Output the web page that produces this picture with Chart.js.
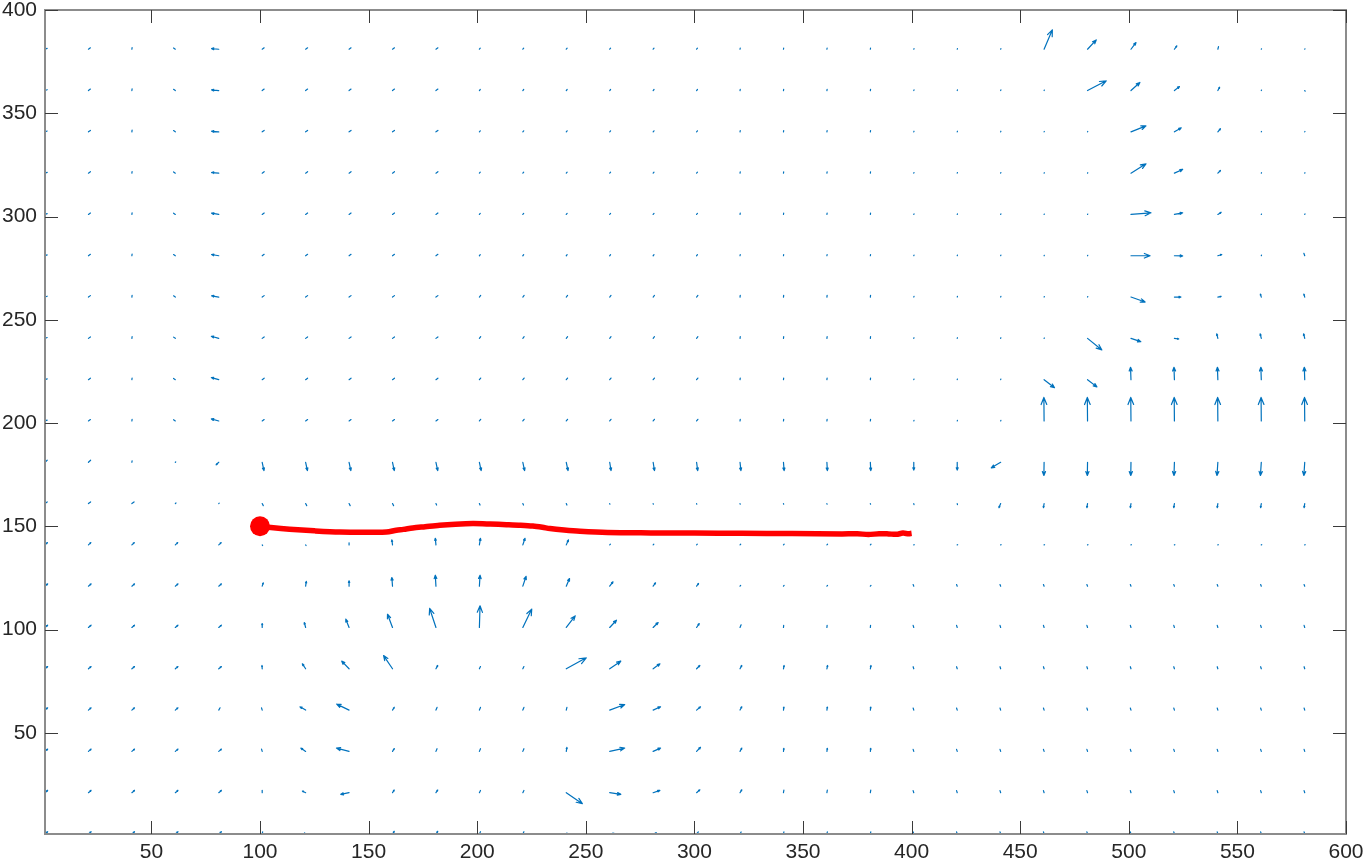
<!DOCTYPE html>
<html>
<head>
<meta charset="utf-8">
<script src="https://cdn.jsdelivr.net/npm/chart.js@4.4.1/dist/chart.umd.min.js"></script>
<style>
  html, body { margin: 0; padding: 0; background: #ffffff; }
  #quiverChart { display: block; }
</style>
</head>
<body>
<canvas id="quiverChart" width="1365" height="862"></canvas>
<script>
// tick labels
const xTickValues = [50, 100, 150, 200, 250, 300, 350, 400, 450, 500, 550, 600];
const yTickValues = [50, 100, 150, 200, 250, 300, 350, 400];

// quiver grid (x = 1:20:581, y = 381 down to 1)
const gridX = [1, 21, 41, 61, 81, 101, 121, 141, 161, 181, 201, 221, 241, 261, 281,
  301, 321, 341, 361, 381, 401, 421, 441, 461, 481, 501, 521, 541, 561, 581];
const gridY = [381, 361, 341, 321, 301, 281, 261, 241, 221, 201,
  181, 161, 141, 121, 101, 81, 61, 41, 21, 1];

// drawn arrow components in data units, one row per gridY entry
const arrowU = [
  [1.0,0.9,0.1,-0.8,-3.3,0.9,0.9,0.9,0.9,0.9, 0.4,0.4,0.4,0.4,0.4,0.4,0.1,0.1,0.1,0.1, 0.1,0.1,0.1,3.8,4.0,2.3,1.1,0.3,0.1,0.1],
  [1.0,0.9,0.1,-0.8,-3.3,0.9,0.9,0.9,0.9,0.9, 0.4,0.4,0.4,0.4,0.4,0.4,0.1,0.1,0.1,0.1, 0.1,0.1,0.1,0.1,8.6,4.1,2.3,0.8,0.1,0.2],
  [1.0,0.9,0.1,-0.8,-3.3,0.9,0.9,0.9,0.9,0.9, 0.4,0.4,0.4,0.4,0.4,0.4,0.1,0.1,0.1,0.1, 0.1,0.1,0.1,0.1,0.1,6.9,3.1,1.2,0.1,0.1],
  [1.0,0.9,0.1,-0.8,-3.3,0.9,0.9,0.9,0.9,0.9, 0.4,0.4,0.4,0.4,0.4,0.4,0.1,0.1,0.1,0.1, 0.1,0.1,0.1,0.1,0.1,6.9,3.8,1.2,0.1,0.1],
  [1.0,0.9,0.1,-0.8,-3.3,0.9,0.9,0.9,0.9,0.9, 0.4,0.4,0.4,0.4,0.4,0.4,0.1,0.1,0.1,0.1, 0.1,0.1,0.1,0.1,0.1,9.2,3.8,1.5,0.1,0.1],
  [1.0,0.9,0.1,-0.8,-3.3,0.9,0.9,0.9,0.9,0.9, 0.4,0.4,0.4,0.4,0.4,0.4,0.1,0.1,0.1,0.1, 0.1,0.1,0.1,0.1,0.1,8.8,3.8,1.8,0.1,-0.4],
  [1.0,0.9,0.1,-0.8,-3.3,0.9,0.9,0.9,0.9,0.9, 0.6,0.6,0.6,0.6,0.6,0.6,0.1,0.1,0.1,0.1, 0.1,0.1,0.1,0.1,0.1,6.5,3.0,1.5,-0.4,-0.4],
  [1.0,0.9,0.1,-0.8,-3.4,0.9,0.9,0.9,0.9,0.9, 0.6,0.6,0.6,0.6,0.6,0.6,0.1,0.1,0.1,0.1, 0.1,0.1,0.1,0.1,6.6,4.5,2.0,-0.5,-0.5,-0.5],
  [1.0,0.9,0.1,-0.8,-3.4,0.9,0.9,0.9,0.9,0.9, 0.6,0.6,0.6,0.6,0.6,0.6,0.1,0.1,0.1,0.1, 0.1,0.1,0.1,4.8,4.3,-0.2,-0.2,-0.2,-0.2,-0.2],
  [1.0,0.9,0.1,-0.8,-3.4,0.9,0.9,0.9,0.9,0.9, 0.6,0.6,0.6,0.6,0.6,0.6,0.1,0.1,0.1,0.1, 0.1,0.1,0.1,-0.1,-0.1,-0.1,-0.1,-0.1,-0.1,-0.1],
  [1.0,1.0,0.1,0.2,-1.2,0.8,0.8,0.8,0.8,0.8, 0.8,0.8,0.8,0.6,0.6,0.5,0.4,0.3,0.2,0.2, 0.0,0.0,-4.3,-0.1,-0.1,-0.1,-0.2,-0.4,-0.4,-0.4],
  [1.0,1.0,1.0,0.3,0.2,0.5,0.5,0.5,0.5,0.3, 0.3,0.3,0.3,0.1,0.1,0.1,0.1,0.1,0.1,0.1, 0.1,0.1,-0.8,-0.3,-0.3,-0.3,-0.3,-0.3,-0.3,-0.3],
  [1.1,1.1,1.1,1.1,1.1,0.2,0.2,0.0,-0.3,-0.3, 0.5,1.0,1.0,0.3,0.3,0.3,0.3,0.3,0.3,0.3, 0.2,0.2,0.2,0.2,0.2,0.2,0.2,0.2,0.2,0.2],
  [1.2,1.2,1.2,1.2,1.2,0.5,0.3,0.0,-0.3,-0.3, 0.3,1.5,1.5,1.5,1.1,0.9,0.3,0.3,0.3,0.3, -0.3,-0.3,-0.3,-0.3,-0.3,-0.3,-0.3,-0.3,-0.3,-0.3],
  [1.2,1.2,1.2,1.2,1.2,0.0,-0.6,-1.5,-2.3,-2.9, 0.3,4.1,4.1,3.1,2.3,1.2,0.5,0.1,0.1,0.1, -0.3,-0.3,-0.3,-0.3,-0.3,-0.3,-0.3,-0.3,-0.3,-0.3],
  [1.2,1.2,1.2,1.2,1.2,-0.1,-1.5,-3.4,-4.1,0.8, 0.5,0.5,9.2,5.1,3.1,1.5,0.8,0.3,0.3,0.3, -0.3,-0.3,-0.3,-0.3,-0.3,-0.3,-0.3,-0.3,-0.3,-0.3],
  [1.2,1.2,1.2,1.2,0.6,-0.3,-2.6,-5.7,0.8,0.5, 0.5,0.5,0.3,6.9,3.4,1.8,0.8,0.2,0.2,0.2, -0.3,-0.3,-0.3,-0.3,-0.3,-0.3,-0.3,-0.3,-0.3,-0.3],
  [1.2,1.2,1.2,1.2,1.2,-0.3,-2.2,-5.8,0.8,0.5, 0.5,0.5,0.3,6.9,3.4,1.8,0.8,0.2,0.2,0.2, -0.3,-0.3,-0.3,-0.3,-0.3,-0.3,-0.3,-0.3,-0.3,-0.3],
  [1.2,1.2,1.2,1.2,1.2,0.0,-1.5,-3.8,0.8,0.8, 0.5,0.5,7.4,5.1,3.1,1.5,0.8,0.2,0.2,0.2, -0.3,-0.3,-0.3,-0.3,-0.3,-0.3,-0.3,-0.3,-0.3,-0.3],
  [1.2,1.2,1.2,1.2,1.2,0.2,-0.5,-1.0,0.8,0.8, 0.5,0.5,0.3,2.0,1.5,0.8,0.5,0.2,0.2,0.2, -0.3,-0.3,-0.3,-0.3,-0.3,-0.3,-0.3,-0.3,-0.3,-0.3],
];
const arrowV = [
  [0.4,0.7,0.8,0.6,0.3,0.7,0.7,0.7,0.7,0.7, 0.5,0.5,0.5,0.5,0.5,0.5,0.6,0.6,0.6,0.6, 0.3,0.3,0.3,9.4,4.5,3.2,1.6,1.3,0.2,0.2],
  [0.4,0.7,0.8,0.6,0.3,0.7,0.7,0.7,0.7,0.7, 0.5,0.5,0.5,0.5,0.5,0.5,0.6,0.6,0.6,0.6, 0.3,0.3,0.3,0.2,4.7,3.9,1.9,1.6,0.2,-0.3],
  [0.4,0.7,0.8,0.6,0.3,0.7,0.7,0.7,0.7,0.7, 0.5,0.5,0.5,0.5,0.5,0.5,0.6,0.6,0.6,0.6, 0.3,0.3,0.3,0.2,0.2,2.9,1.9,1.5,0.2,0.2],
  [0.4,0.7,0.8,0.6,0.3,0.7,0.7,0.7,0.7,0.7, 0.5,0.5,0.5,0.5,0.5,0.5,0.6,0.6,0.6,0.6, 0.3,0.3,0.3,0.2,0.2,4.5,1.8,1.3,0.2,0.2],
  [0.4,0.7,0.8,0.6,0.6,0.7,0.7,0.7,0.7,0.7, 0.5,0.5,0.5,0.5,0.5,0.5,0.6,0.6,0.6,0.6, 0.3,0.3,0.3,0.2,0.2,0.8,0.8,1.0,0.2,0.3],
  [0.4,0.7,0.8,0.6,0.6,0.7,0.7,0.7,0.7,0.7, 0.5,0.5,0.5,0.5,0.5,0.5,0.6,0.6,0.6,0.6, 0.3,0.3,0.3,0.2,0.2,0.0,-0.1,0.6,0.3,1.2],
  [0.4,0.7,0.8,0.6,0.6,0.7,0.7,0.7,0.7,0.7, 0.8,0.8,0.8,0.8,0.8,0.8,0.8,0.8,0.8,0.8, 0.3,0.3,0.3,0.2,0.2,-2.4,0.0,0.3,1.4,1.4],
  [0.4,0.7,0.8,0.6,1.0,0.7,0.7,0.7,0.7,0.7, 0.8,0.8,0.8,0.8,0.8,0.8,0.8,0.8,0.8,0.8, 0.3,0.3,0.3,0.2,-5.6,-1.6,-0.3,2.2,2.2,2.2],
  [0.4,0.7,0.8,0.6,1.0,0.7,0.7,0.7,0.7,0.7, 0.8,0.8,0.8,0.8,0.8,0.8,0.8,0.8,0.8,0.8, 0.3,0.3,0.3,-3.9,-3.5,6.0,6.0,6.0,6.0,6.0],
  [0.4,0.7,0.8,0.6,1.0,0.7,0.7,0.7,0.7,0.7, 0.8,0.8,0.8,0.8,0.8,0.8,0.8,0.8,0.8,0.8, 0.3,0.3,0.3,11.4,11.4,11.4,11.4,11.4,11.4,11.4],
  [1.0,1.0,0.7,0.2,-1.2,-4.0,-4.0,-4.0,-4.0,-4.0, -4.0,-4.0,-4.0,-4.0,-4.0,-4.0,-4.0,-4.0,-4.0,-4.0, -3.8,-3.8,-2.7,-6.4,-6.4,-6.4,-6.4,-6.4,-6.4,-6.4],
  [0.8,0.8,0.8,0.3,0.2,-1.0,-1.0,-1.0,-1.0,-0.7, -0.7,-0.7,-0.7,-0.3,-0.3,-0.3,-0.3,-0.3,-0.3,-0.3, -0.5,-0.5,-2.0,-2.0,-2.0,-2.0,-2.0,-2.0,-2.0,-2.0],
  [1.1,1.1,1.1,1.1,1.1,-0.3,-0.3,1.0,2.4,3.2, 3.2,3.2,2.4,0.3,0.3,0.3,0.3,0.3,0.3,0.3, 0.1,0.1,0.1,0.1,0.1,0.1,0.1,0.1,0.1,0.1],
  [1.1,1.1,1.1,1.1,1.1,1.6,2.3,2.6,4.2,5.3, 5.3,4.8,3.7,2.1,1.6,1.3,0.4,0.4,0.4,0.4, 0.8,0.8,0.8,0.8,0.8,0.8,0.8,0.8,0.8,0.8],
  [1.1,1.1,1.1,1.1,1.1,1.9,2.4,4.0,6.4,9.2, 10.5,8.9,5.6,3.5,2.4,1.9,1.3,1.0,1.0,1.0, 1.0,1.0,1.0,1.0,1.0,1.0,1.0,1.0,1.0,1.0],
  [1.1,1.1,1.1,1.1,1.1,1.6,2.4,3.7,6.4,1.6, 1.1,1.1,5.3,3.7,2.4,1.6,1.6,1.6,1.6,1.6, 1.0,1.0,1.0,1.0,1.0,1.0,1.0,1.0,1.0,1.0],
  [1.1,1.1,1.1,1.1,1.1,1.1,1.6,2.9,1.3,1.3, 1.3,1.3,1.3,2.7,1.6,1.6,1.6,1.5,1.5,1.5, 1.0,1.0,1.0,1.0,1.0,1.0,1.0,1.0,1.0,1.0],
  [1.1,1.1,1.1,1.1,1.1,1.1,1.6,1.6,1.3,1.3, 1.3,1.3,1.9,1.6,1.6,2.0,1.6,1.5,1.5,1.5, 1.0,1.0,1.0,1.0,1.0,1.0,1.0,1.0,1.0,1.0],
  [1.1,1.1,1.1,1.1,1.1,1.1,0.8,-0.8,1.3,1.3, 1.1,1.1,-5.3,-0.8,1.1,1.4,1.4,1.3,1.3,1.3, 1.0,1.0,1.0,1.0,1.0,1.0,1.0,1.0,1.0,1.0],
  [1.1,1.1,1.1,1.1,1.1,1.0,0.5,0.2,1.3,1.3, 1.1,1.1,0.5,0.3,0.5,1.0,1.0,1.0,1.0,1.0, 1.0,1.0,1.0,1.0,1.0,1.0,1.0,1.0,1.0,1.0],
];

// red trajectory
const trajX = [100, 105, 113.6, 125, 136.7, 150, 158.2, 162.8, 166, 170.3, 176, 182.7, 190, 198,
  206, 213.5, 220, 225.6, 230, 233.5, 240, 247.3, 260, 280, 300, 321.8, 345, 367.9, 375,
  380.1, 385, 389.4, 393, 396, 398.6, 400];
const trajY = [150, 149.4, 148.6, 147.8, 147.2, 147.1, 147.2, 148.1, 148.5, 149.2, 149.8, 150.5, 151, 151.3,
  151.1, 150.8, 150.5, 150.1, 149.5, 148.9, 148.2, 147.6, 147, 146.8, 146.7, 146.6, 146.5, 146.3, 146.4,
  146, 146.4, 146.3, 146.1, 146.7, 146.4, 146.6];
const startPoint = { x: 100, y: 150 };

const quiverColor = '#0072BD';
const tickFont = { family: "'Liberation Sans', Arial, sans-serif", size: 21, lineHeight: 1 };

function drawArrow(ctx, x0, y0, x1, y1) {
  const dx = x1 - x0;
  const dy = y1 - y0;
  const len = Math.hypot(dx, dy);
  ctx.beginPath();
  ctx.moveTo(x0, y0);
  ctx.lineTo(x1, y1);
  if (len > 3) {
    const hl = Math.min(0.3 * len, 8);
    const hw = Math.min(0.12 * len, 3);
    const ux = dx / len;
    const uy = dy / len;
    const bx = x1 - ux * hl;
    const by = y1 - uy * hl;
    ctx.moveTo(bx - uy * hw, by + ux * hw);
    ctx.lineTo(x1, y1);
    ctx.lineTo(bx + uy * hw, by - ux * hw);
  }
  ctx.stroke();
}

const quiverPlugin = {
  id: 'quiver',
  beforeDatasetsDraw(chart) {
    const { ctx, chartArea, scales } = chart;
    ctx.save();
    ctx.beginPath();
    ctx.rect(chartArea.left, chartArea.top, chartArea.right - chartArea.left, chartArea.bottom - chartArea.top);
    ctx.clip();
    ctx.strokeStyle = quiverColor;
    ctx.lineWidth = 1.2;
    ctx.lineCap = 'round';
    ctx.lineJoin = 'round';
    gridY.forEach((gy, r) => {
      gridX.forEach((gx, c) => {
        const x0 = scales.x.getPixelForValue(gx);
        const y0 = scales.y.getPixelForValue(gy);
        const x1 = scales.x.getPixelForValue(gx + arrowU[r][c]);
        const y1 = scales.y.getPixelForValue(gy + arrowV[r][c]);
        drawArrow(ctx, x0, y0, x1, y1);
      });
    });
    ctx.restore();
  },
};

const framePlugin = {
  id: 'frame',
  afterDraw(chart) {
    const { ctx, chartArea, scales } = chart;
    const { left, right, top, bottom } = chartArea;
    const tickLen = 13;
    ctx.save();
    ctx.strokeStyle = '#8c8c8c';
    ctx.lineWidth = 2;
    ctx.strokeRect(left, top, right - left, bottom - top);
    ctx.strokeStyle = '#3a3a3a';
    ctx.lineWidth = 1;
    ctx.beginPath();
    xTickValues.forEach((v) => {
      const px = Math.round(scales.x.getPixelForValue(v)) + 0.5;
      ctx.moveTo(px, bottom);
      ctx.lineTo(px, bottom - tickLen);
      ctx.moveTo(px, top);
      ctx.lineTo(px, top + tickLen);
    });
    yTickValues.forEach((v) => {
      const py = Math.round(scales.y.getPixelForValue(v)) + 0.5;
      ctx.moveTo(left, py);
      ctx.lineTo(left + tickLen, py);
      ctx.moveTo(right, py);
      ctx.lineTo(right - tickLen, py);
    });
    ctx.stroke();
    ctx.restore();
  },
};

function bootstrap() {
  const ctx = document.getElementById('quiverChart');
  new Chart(ctx, {
    type: 'scatter',
    data: {
      datasets: [
        {
          label: 'trajectory',
          data: trajX.map((x, i) => ({ x, y: trajY[i] })),
          showLine: true,
          borderColor: '#ff0000',
          borderWidth: 5.5,
          pointRadius: 0,
          tension: 0.3,
        },
        {
          label: 'start',
          data: [startPoint],
          backgroundColor: '#ff0000',
          borderWidth: 0,
          pointRadius: 10,
        },
      ],
    },
    options: {
      responsive: false,
      animation: false,
      devicePixelRatio: 1,
      layout: { padding: { top: 10, right: 19, left: 0, bottom: 0 } },
      plugins: {
        legend: { display: false },
        tooltip: { enabled: false },
      },
      scales: {
        x: {
          type: 'linear',
          min: 1,
          max: 600,
          grid: { display: false, drawTicks: false },
          border: { display: false },
          afterBuildTicks: (s) => { s.ticks = xTickValues.map((value) => ({ value })); },
          afterFit: (s) => {
            s.height = 28;
            s.paddingLeft = 0;
            s.paddingRight = 0;
          },
          ticks: { font: tickFont, color: '#262626', padding: 8, maxRotation: 0, autoSkip: false },
        },
        y: {
          type: 'linear',
          min: 1,
          max: 400,
          grid: { display: false, drawTicks: false },
          border: { display: false },
          afterBuildTicks: (s) => { s.ticks = yTickValues.map((value) => ({ value })); },
          afterFit: (s) => {
            s.width = 45;
            s.paddingTop = 0;
            s.paddingBottom = 0;
          },
          ticks: { font: tickFont, color: '#262626', padding: 8, autoSkip: false },
        },
      },
    },
    plugins: [quiverPlugin, framePlugin],
  });
}

document.addEventListener('DOMContentLoaded', bootstrap);
</script>
</body>
</html>
